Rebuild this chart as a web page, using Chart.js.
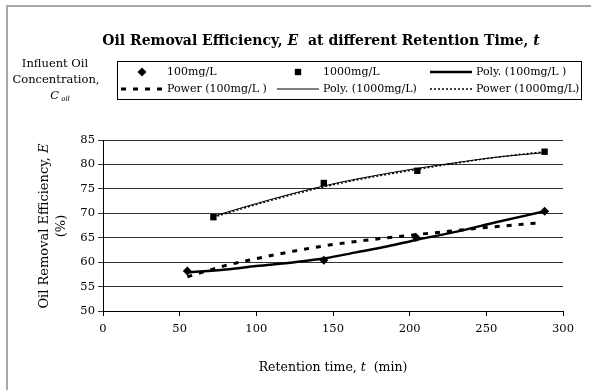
<!DOCTYPE html>
<html>
<head>
<meta charset="utf-8">
<script src="https://cdn.jsdelivr.net/npm/chart.js@4"></script>
<style>
  body { margin: 0; background: #fff; }
  #wrap { position: relative; width: 591px; height: 390px; }
</style>
</head>
<body>
<div id="wrap"><canvas id="oilChart" width="591" height="390"></canvas></div>
<script>
// Measured points
const time100 = [55, 144, 204, 288];
const eff100 = [58.2, 60.4, 65.1, 70.4];
const time1000 = [72, 144, 205, 288];
const eff1000 = [69.2, 76.2, 78.7, 82.6];

// Trend lines
const polyTime100 = [55, 80, 100, 125, 145, 165, 185, 205, 230, 257, 288];
const polyEff100 = [57.9, 58.5, 59.2, 60.0, 60.8, 62.0, 63.2, 64.6, 66.2, 68.2, 70.4];
const powTime100 = [55, 80, 100, 125, 150, 175, 200, 225, 250, 283];
const powEff100 = [57.0, 59.3, 60.7, 62.3, 63.6, 64.6, 65.5, 66.3, 67.1, 68.0];
const trendTime1000 = [72, 100, 122, 144, 165, 205, 231, 257, 288];
const polyEff1000 = [69.4, 72.0, 73.9, 75.6, 77.0, 79.2, 80.4, 81.5, 82.4];
const powEff1000 = [69.2, 71.8, 73.7, 75.4, 76.8, 79.0, 80.3, 81.5, 82.6];

// Tick labels
const xTickValues = [0, 50, 100, 150, 200, 250, 300];
const yTickValues = [50, 55, 60, 65, 70, 75, 80, 85];

const serif = '"DejaVu Serif", "Liberation Serif", serif';

const toPoints = (xs, ys) => xs.map((x, i) => ({ x: x, y: ys[i] }));

// draw a line of text made of runs with different fonts, centred on cx
function drawRuns(ctx, runs, cx, cy) {
    let total = 0;
    runs.forEach(r => { ctx.font = r.font; total += ctx.measureText(r.text).width; });
    let x = cx - total / 2;
    ctx.textAlign = 'left';
    ctx.textBaseline = 'middle';
    runs.forEach(r => {
        ctx.font = r.font;
        ctx.fillText(r.text, x, cy + (r.dy || 0));
        x += ctx.measureText(r.text).width;
    });
}

const decorPlugin = {
    id: 'decor',
    beforeDraw(chart) {
        const ctx = chart.ctx;
        ctx.save();
        ctx.fillStyle = '#fff';
        ctx.fillRect(0, 0, chart.width, chart.height);
        ctx.fillStyle = '#a8a8a8';
        ctx.fillRect(6, 5, chart.width - 6, 2);
        ctx.fillRect(6, 5, 2, chart.height - 5);
        ctx.restore();
    },
    afterDraw(chart) {
        const ctx = chart.ctx;
        ctx.save();
        ctx.fillStyle = '#000';
        const reg = '11px ' + serif;
        const cap = '11.5px ' + serif;
        const ital = 'italic 11.5px ' + serif;
        const bold = 'bold 14px ' + serif;
        const boldIt = 'bold italic 14px ' + serif;

        // title
        drawRuns(ctx, [
            { text: 'Oil Removal Efficiency, ', font: bold },
            { text: 'E', font: boldIt },
            { text: '  at different Retention Time, ', font: bold },
            { text: 't', font: boldIt }
        ], 321, 41);

        // legend caption
        drawRuns(ctx, [{ text: 'Influent Oil', font: cap }], 55, 64);
        drawRuns(ctx, [{ text: 'Concentration,', font: cap }], 56, 80);
        drawRuns(ctx, [
            { text: 'C', font: ital },
            { text: ' oil', font: 'italic 7px ' + serif, dy: 3 }
        ], 60, 96);

        // legend box
        ctx.strokeStyle = '#000';
        ctx.lineWidth = 1;
        ctx.strokeRect(117.5, 61.5, 464, 38);

        const cols = [121, 277, 430];
        const rows = [72, 89];
        const sampleW = 42;
        chart.data.datasets.forEach((ds, k) => {
            const x0 = cols[k % 3];
            const y = rows[Math.floor(k / 3)];
            if (ds.showLine) {
                ctx.save();
                ctx.strokeStyle = ds.borderColor;
                ctx.lineWidth = ds.borderWidth;
                ctx.setLineDash(ds.borderDash || []);
                ctx.beginPath();
                ctx.moveTo(x0, y);
                ctx.lineTo(x0 + sampleW, y);
                ctx.stroke();
                ctx.restore();
            } else {
                Chart.helpers.drawPoint(ctx, {
                    pointStyle: ds.pointStyle,
                    radius: ds.pointRadius,
                    borderWidth: 0
                }, x0 + sampleW / 2, y);
            }
            ctx.font = reg;
            ctx.textAlign = 'left';
            ctx.textBaseline = 'middle';
            ctx.fillStyle = '#000';
            ctx.fillText(ds.label, x0 + sampleW + 4, y);
        });

        // y axis title
        ctx.save();
        ctx.translate(45, 226);
        ctx.rotate(-Math.PI / 2);
        drawRuns(ctx, [
            { text: 'Oil Removal Efficiency, ', font: '13px ' + serif },
            { text: 'E', font: 'italic 13px ' + serif }
        ], 0, 0);
        drawRuns(ctx, [{ text: '(%)', font: '13px ' + serif }], 0, 17);
        ctx.restore();

        // x axis title
        drawRuns(ctx, [
            { text: 'Retention time, ', font: '12.5px ' + serif },
            { text: 't', font: 'italic 12.5px ' + serif },
            { text: '  (min)', font: '12.5px ' + serif }
        ], 333, 368);
        ctx.restore();
    }
};

const oilChart = new Chart(document.getElementById('oilChart').getContext('2d'), {
    type: 'scatter',
    data: {
        datasets: [{
            label: '100mg/L',
            data: toPoints(time100, eff100),
            pointStyle: 'rectRot',
            pointRadius: 4.5,
            backgroundColor: '#000',
            borderColor: '#000',
            borderWidth: 0,
            order: 0
        }, {
            label: '1000mg/L',
            data: toPoints(time1000, eff1000),
            pointStyle: 'rect',
            pointRadius: 4.5,
            backgroundColor: '#000',
            borderColor: '#000',
            borderWidth: 0,
            order: 0
        }, {
            label: 'Poly. (100mg/L )',
            data: toPoints(polyTime100, polyEff100),
            showLine: true,
            pointRadius: 0,
            borderColor: '#000',
            borderWidth: 2.5,
            cubicInterpolationMode: 'monotone',
            order: 1
        }, {
            label: 'Power (100mg/L )',
            data: toPoints(powTime100, powEff100),
            showLine: true,
            pointRadius: 0,
            borderColor: '#000',
            borderWidth: 3,
            borderDash: [5, 7],
            cubicInterpolationMode: 'monotone',
            order: 1
        }, {
            label: 'Poly. (1000mg/L)',
            data: toPoints(trendTime1000, polyEff1000),
            showLine: true,
            pointRadius: 0,
            borderColor: '#000',
            borderWidth: 1,
            cubicInterpolationMode: 'monotone',
            order: 1
        }, {
            label: 'Power (1000mg/L)',
            data: toPoints(trendTime1000, powEff1000),
            showLine: true,
            pointRadius: 0,
            borderColor: '#000',
            borderWidth: 1.5,
            borderDash: [2, 2],
            cubicInterpolationMode: 'monotone',
            order: 1
        }]
    },
    options: {
        responsive: false,
        animation: false,
        layout: { padding: { left: 0, top: 140, right: 28, bottom: 0 } },
        scales: {
            x: {
                type: 'linear',
                min: 0,
                max: 300,
                afterBuildTicks: s => { s.ticks = xTickValues.map(v => ({ value: v })); },
                afterFit: s => { s.height = 79; },
                grid: { drawOnChartArea: false, drawTicks: true, tickLength: 5, color: '#000' },
                border: { color: '#000', width: 1 },
                ticks: { color: '#000', padding: 6, maxRotation: 0, font: { family: serif, size: 11.5 } }
            },
            y: {
                min: 50,
                max: 85,
                afterBuildTicks: s => { s.ticks = yTickValues.map(v => ({ value: v })); },
                afterFit: s => { s.width = 103; },
                grid: { drawTicks: true, tickLength: 5, color: '#333' },
                border: { color: '#000', width: 1 },
                ticks: { color: '#000', padding: 3, font: { family: serif, size: 11.5 } }
            }
        },
        plugins: {
            legend: { display: false },
            tooltip: { enabled: false }
        }
    },
    plugins: [decorPlugin]
});
</script>
</body>
</html>
